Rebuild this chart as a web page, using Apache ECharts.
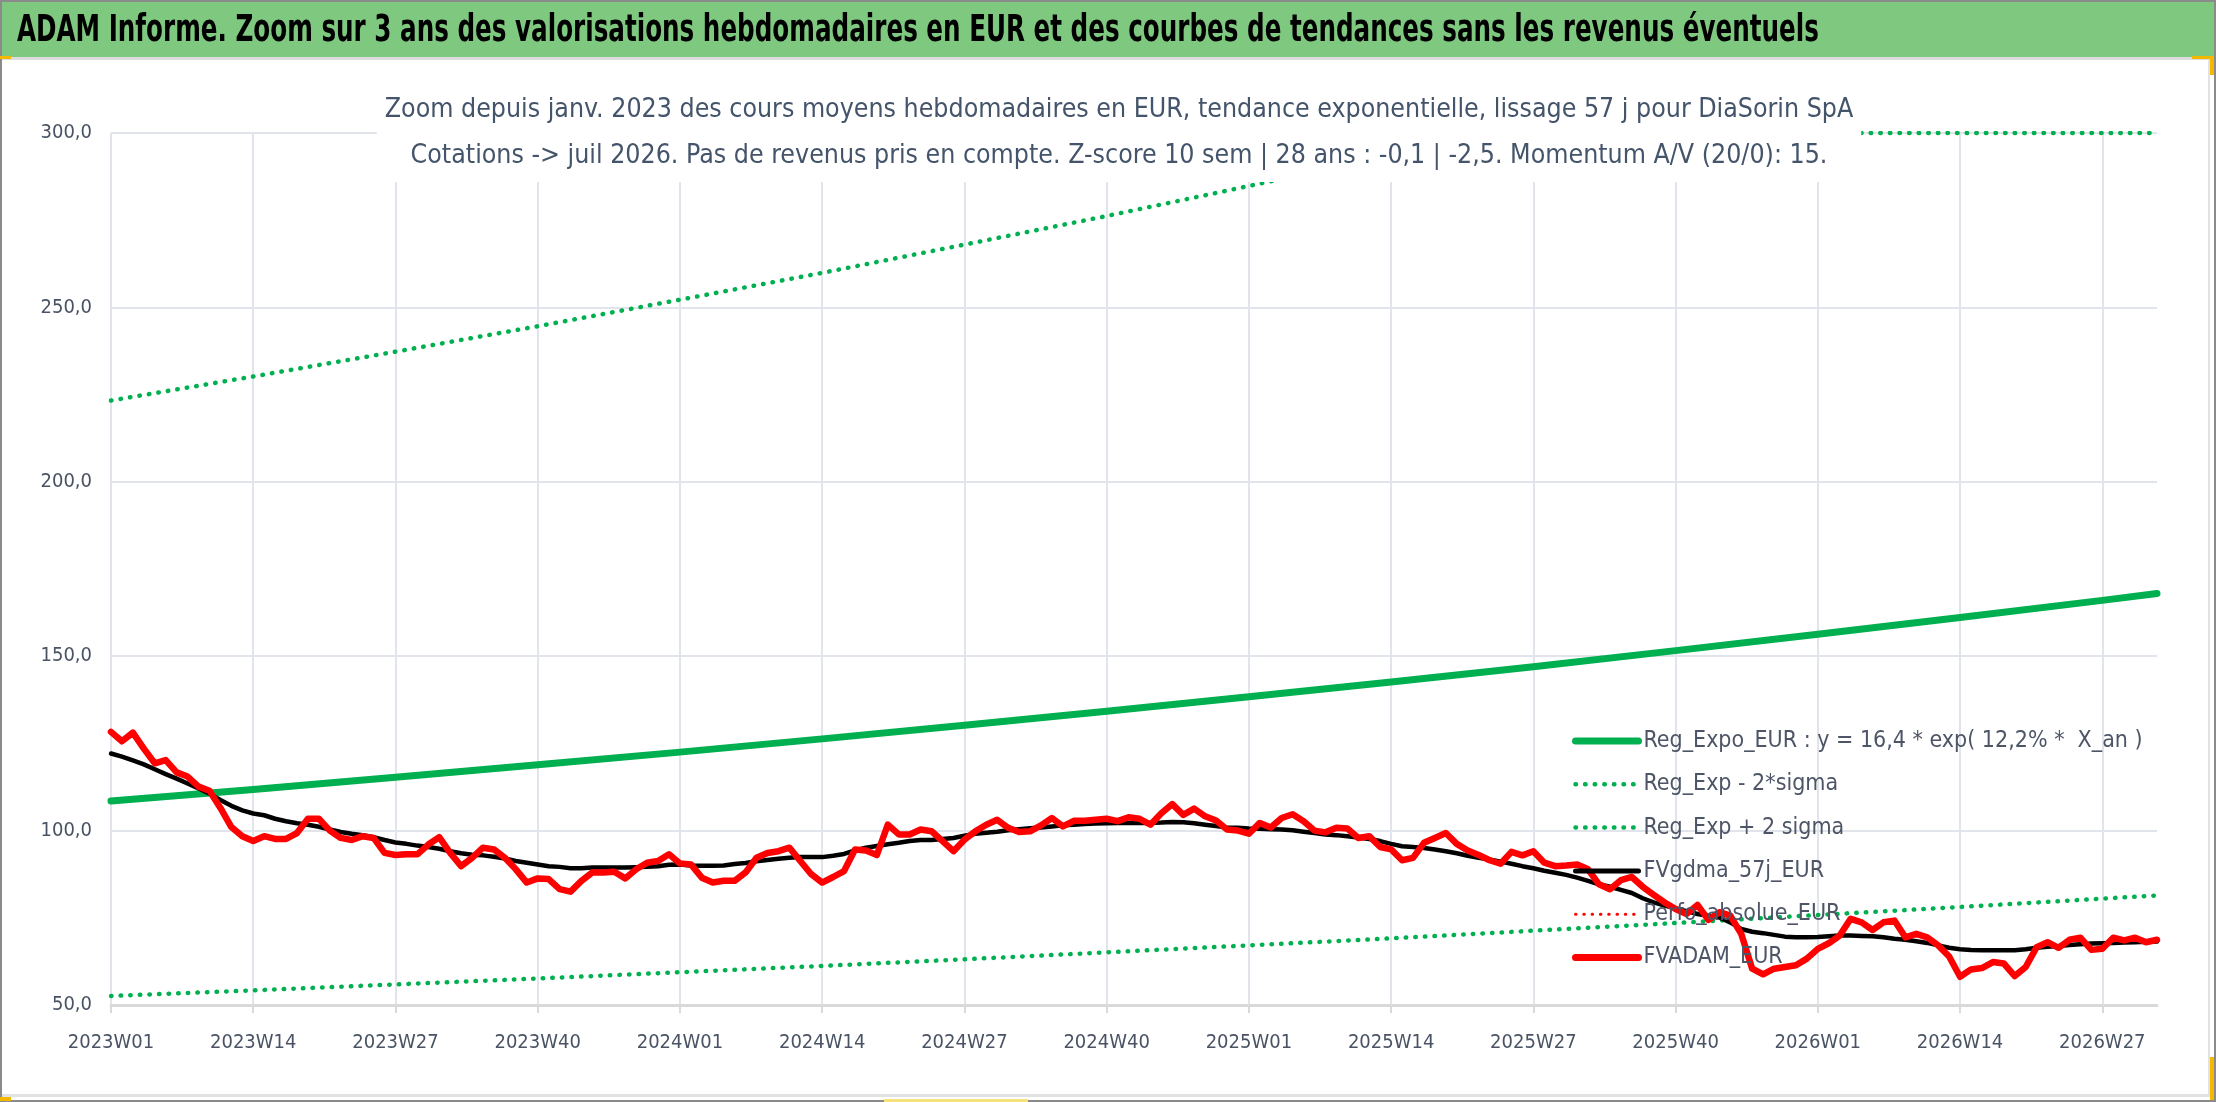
<!DOCTYPE html>
<html>
<head>
<meta charset="utf-8">
<script src="https://cdn.jsdelivr.net/npm/echarts@6/dist/echarts.min.js"></script>
<style>
  html, body { margin: 0; padding: 0; background: #fff; }
  #chart { width: 2216px; height: 1102px; }
</style>
</head>
<body>
<div id="chart"></div>
<script>
// valeurs hebdomadaires (2023W01 -> 2026W32)
const fvAdam = [
  128.3,125.6,128.1,123.5,119.3,120.2,116.7,115.5,112.6,111.4,106.5,101.0,98.4,
  97.0,98.4,97.6,97.6,99.3,103.4,103.4,100.0,97.9,97.3,98.4,97.9,93.6,
  93.0,93.2,93.2,96.0,98.1,93.6,89.8,92.2,95.1,94.6,92.2,88.9,85.1,
  86.3,86.1,83.2,82.5,85.6,88.0,88.0,88.2,86.3,88.9,90.8,91.3,93.2,
  90.6,90.3,86.5,85.1,85.6,85.6,88.0,92.2,93.6,94.1,95.1,91.3,87.5,
  85.1,86.7,88.4,94.6,94.3,93.0,101.7,98.9,98.9,100.3,99.8,97.0,94.1,
  97.4,99.8,101.7,103.1,100.8,99.6,99.8,101.5,103.6,101.2,102.8,102.8,103.1,
  103.4,102.7,103.8,103.4,101.7,105.0,107.6,104.5,106.3,104.1,102.9,100.3,100.0,
  99.1,102.2,100.9,103.6,104.7,102.7,100.0,99.5,100.8,100.6,97.9,98.4,95.3,
  94.6,91.5,92.2,96.5,97.9,99.3,96.2,94.3,93.0,91.5,90.5,93.9,92.9,
  94.1,90.8,89.8,90.0,90.3,88.9,84.6,83.2,85.8,86.7,83.9,81.6,79.4,
  77.5,76.1,78.7,74.4,76.6,75.6,70.4,60.4,58.8,60.4,60.9,61.4,63.3,
  66.1,67.7,69.9,74.7,73.7,71.5,73.7,74.2,69.4,70.4,69.4,67.1,63.9,
  58.1,60.2,60.6,62.3,61.9,58.3,60.9,66.6,68.0,66.4,68.7,69.3,65.8,
  66.1,69.3,68.5,69.3,68.0,68.7
];
const fvGdma = [
  122.1,121.2,120.1,119.0,117.6,116.2,114.9,113.5,112.1,110.6,108.8,107.1,105.8,
  104.9,104.4,103.4,102.7,102.1,101.7,101.1,100.3,99.6,99.1,98.7,98.1,97.3,
  96.6,96.2,95.7,95.3,94.8,94.1,93.5,93.1,92.9,92.5,92.0,91.3,90.8,
  90.3,89.8,89.6,89.2,89.2,89.4,89.4,89.4,89.4,89.5,89.6,89.8,90.2,
  90.3,90.0,89.9,89.9,90.0,90.4,90.7,91.2,91.6,91.9,92.2,92.4,92.4,
  92.4,92.8,93.3,94.3,95.1,95.6,96.1,96.5,97.0,97.3,97.3,97.6,97.9,
  98.5,99.1,99.4,99.7,100.1,100.4,100.7,100.9,101.2,101.5,101.7,101.9,102.0,
  102.1,102.2,102.2,102.2,102.2,102.3,102.5,102.4,102.1,101.7,101.3,100.9,100.8,
  100.6,100.5,100.4,100.3,100.1,99.7,99.3,98.9,98.7,98.4,98.0,97.6,97.0,
  96.2,95.5,95.3,95.0,94.6,94.1,93.5,92.8,92.2,91.7,91.1,90.5,89.8,
  89.2,88.5,87.9,87.3,86.5,85.6,84.6,83.9,83.0,82.1,80.6,79.4,78.5,
  77.7,76.9,76.1,75.6,75.1,73.7,71.8,71.0,70.6,70.1,69.6,69.4,69.4,
  69.5,69.7,69.9,69.9,69.8,69.7,69.4,69.0,68.7,68.3,67.8,67.1,66.4,
  66.0,65.8,65.7,65.7,65.7,65.7,66.0,66.4,66.7,66.9,67.2,67.4,67.6,
  67.7,67.8,67.9,68.0,68.1,68.2
];

// courbes de tendance : points relevés toutes les 13 semaines
const trendWeeks = [0,13,26,39,52,65,78,91,104,117,130,143,156,169,182,187];
const regExpo    = [108.5,111.8,115.3,118.9,122.5,126.3,130.2,134.2,138.4,142.6,147.0,151.6,156.3,161.1,166.0,168.0];
const regMinus   = [52.6,54.2,55.9,57.6,59.4,61.2,63.1,65.1,67.1,69.1,71.3,73.5,75.8,78.1,80.5,81.4];
const upperWeeks = [0,13,26,39,52,65,78,91,104,117,126,130,143,156,169,182,187];
const regPlus    = [223.3,230.2,237.3,244.6,252.2,259.9,268.0,276.2,284.8,293.6,300,300,300,300,300,300,300];

const yTicks = [50, 100, 150, 200, 250, 300];

// semaines ISO 2023W01 ... 2026W32
const cats = [];
for (let y = 2023; cats.length < 188; y++) {
  for (let w = 1; w <= 52 && cats.length < 188; w++) {
    cats.push(y + 'W' + (w < 10 ? '0' + w : w));
  }
}

const FONT = "'DejaVu Sans Condensed', 'Liberation Sans Narrow', sans-serif";
const GREEN = '#00b050';
const TXT = '#4a5364';

const mainTitle = 'ADAM Informe. Zoom sur 3 ans des valorisations hebdomadaires en EUR et des courbes de tendances sans les revenus éventuels';
const names = [
  'Reg_Expo_EUR : y = 16,4 * exp( 12,2% *  X_an )',
  'Reg_Exp - 2*sigma',
  'Reg_Exp + 2 sigma',
  'FVgdma_57j_EUR',
  'Perfo_absolue_EUR',
  'FVADAM_EUR'
];
const dots = [0.5, 9.1];

const chart = echarts.init(document.getElementById('chart'));
chart.setOption({
  animation: false,
  backgroundColor: '#fff',
  graphic: [
    { type: 'rect', shape: { x: 0, y: 0, width: 2216, height: 57 }, style: { fill: '#7ec87f' }, z: 0 },
    { type: 'rect', shape: { x: 0, y: 57, width: 2216, height: 3 }, style: { fill: '#dcdcdc' }, z: 0 },
    { type: 'rect', shape: { x: 2208, y: 60, width: 2, height: 1036 }, style: { fill: '#e2e2e2' }, z: 0 },
    { type: 'rect', shape: { x: 0, y: 1094, width: 2210, height: 3 }, style: { fill: '#e2e2e2' }, z: 0 },
    { type: 'rect', shape: { x: 1, y: 1, width: 2214, height: 1100 }, style: { fill: null, stroke: '#8a8a8a', lineWidth: 2 }, z: 0 },
    { type: 'rect', shape: { x: 0, y: 56, width: 11, height: 3 }, style: { fill: '#f5b800' }, z: 1 },
    { type: 'rect', shape: { x: 2192, y: 56, width: 21, height: 3 }, style: { fill: '#f5b800' }, z: 1 },
    { type: 'rect', shape: { x: 2210, y: 56, width: 4, height: 19 }, style: { fill: '#f5b800' }, z: 1 },
    { type: 'rect', shape: { x: 2210, y: 1057, width: 4, height: 43 }, style: { fill: '#f5b800' }, z: 1 },
    { type: 'rect', shape: { x: 0, y: 1097, width: 11, height: 4 }, style: { fill: '#f5b800' }, z: 1 },
    { type: 'rect', shape: { x: 884, y: 1099, width: 144, height: 3 }, style: { fill: '#f5e27a' }, z: 1 },
    {
      type: 'text', x: 17, y: 31, scaleX: 0.74, z: 5,
      style: {
        text: mainTitle, fill: '#000', fontFamily: FONT, fontSize: 37, fontWeight: 'bold',
        verticalAlign: 'middle', align: 'left'
      }
    }
  ],
  title: {
    text: 'Zoom depuis janv. 2023 des cours moyens hebdomadaires en EUR, tendance exponentielle, lissage 57 j pour DiaSorin SpA\n' +
          'Cotations -> juil 2026. Pas de revenus pris en compte. Z-score 10 sem | 28 ans : -0,1 | -2,5. Momentum A/V (20/0): 15.',
    left: 1111,
    textAlign: 'center',
    top: 84,
    padding: [3, 8, 3, 8],
    backgroundColor: '#fff',
    textStyle: { fontFamily: FONT, fontSize: 26.5, lineHeight: 46, fontWeight: 'normal', color: '#44546a' }
  },
  legend: {
    orient: 'vertical',
    left: 1572,
    top: 726,
    padding: 0,
    itemWidth: 63,
    itemHeight: 14,
    itemGap: 13.3,
    itemStyle: { opacity: 0 },
    textStyle: { fontFamily: FONT, fontSize: 23, lineHeight: 30, color: '#4d5566' },
    data: [
      { name: names[0], lineStyle: { width: 7 } },
      { name: names[1], lineStyle: { width: 4.5 } },
      { name: names[2], lineStyle: { width: 4.5 } },
      { name: names[3], lineStyle: { width: 5 } },
      { name: names[4], lineStyle: { width: 3 } },
      { name: names[5], lineStyle: { width: 7 } }
    ]
  },
  grid: { left: 111, right: 59, top: 133, bottom: 97, containLabel: false },
  xAxis: {
    type: 'category',
    data: cats,
    boundaryGap: false,
    axisLine: { lineStyle: { color: '#d9d9d9', width: 3 } },
    axisTick: { show: true, interval: 12, length: 8, lineStyle: { color: '#d9d9d9', width: 2 } },
    axisLabel: { interval: 12, margin: 28, fontFamily: FONT, fontSize: 20, color: TXT },
    splitLine: { show: true, interval: 12, lineStyle: { color: '#e1e4ea', width: 2 } }
  },
  yAxis: {
    type: 'value',
    min: 50,
    max: 300,
    interval: 50,
    axisLine: { show: false },
    axisTick: { show: false },
    axisLabel: {
      margin: 19,
      fontFamily: FONT,
      fontSize: 20,
      color: TXT,
      formatter: v => yTicks.includes(v) ? v.toFixed(1).replace('.', ',') : ''
    },
    splitLine: { lineStyle: { color: '#e1e4ea', width: 2 } }
  },
  series: [
    {
      name: names[0], type: 'line', symbol: 'none',
      data: trendWeeks.map((w, i) => [cats[w], regExpo[i]]),
      lineStyle: { color: GREEN, width: 7, cap: 'round', join: 'round' },
      itemStyle: { color: GREEN }
    },
    {
      name: names[1], type: 'line', symbol: 'none',
      data: trendWeeks.map((w, i) => [cats[w], regMinus[i]]),
      lineStyle: { color: GREEN, width: 4.5, type: dots, cap: 'round' },
      itemStyle: { color: GREEN }
    },
    {
      name: names[2], type: 'line', symbol: 'none',
      data: upperWeeks.map((w, i) => [cats[w], regPlus[i]]),
      lineStyle: { color: GREEN, width: 4.5, type: dots, cap: 'round' },
      itemStyle: { color: GREEN }
    },
    {
      name: names[3], type: 'line', symbol: 'none',
      data: fvGdma,
      lineStyle: { color: '#000', width: 4.5, cap: 'round', join: 'round' },
      itemStyle: { color: '#000' }
    },
    {
      name: names[4], type: 'line', symbol: 'none',
      data: [],
      lineStyle: { color: '#ff0000', width: 3, type: [0.5, 7.8], cap: 'round' },
      itemStyle: { color: '#ff0000' }
    },
    {
      name: names[5], type: 'line', symbol: 'none',
      data: fvAdam,
      lineStyle: { color: '#ff0000', width: 6.5, cap: 'round', join: 'round' },
      itemStyle: { color: '#ff0000' }
    }
  ]
});
</script>
</body>
</html>
